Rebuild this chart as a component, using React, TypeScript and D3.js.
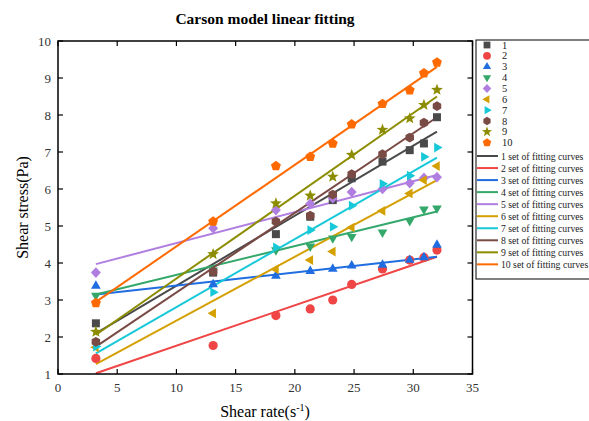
import React from "react";
import * as d3 from "d3";

const shearRate = [3.2, 13.1, 18.4, 21.3, 23.2, 24.8, 27.4, 29.7, 30.9, 32.0];

const s1 = [2.37, 3.74, 4.78, 5.25, 5.7, 6.29, 6.74, 7.05, 7.23, 7.94];
const s2 = [1.42, 1.77, 2.58, 2.76, 3.0, 3.42, 3.84, 4.08, 4.15, 4.35];
const s3 = [3.38, 3.42, 3.65, 3.78, 3.84, 3.93, 3.95, 4.08, 4.15, 4.49];
const s4 = [3.12, 3.8, 4.35, 4.45, 4.67, 4.71, 4.83, 5.14, 5.45, 5.48];
const s5 = [3.74, 4.94, 5.43, 5.6, 5.75, 5.92, 6.0, 6.16, 6.3, 6.32];
const s6 = [1.72, 2.64, 3.83, 4.08, 4.31, 4.96, 5.41, 5.88, 6.24, 6.62];
const s7 = [1.74, 3.21, 4.42, 4.89, 4.98, 5.55, 6.14, 6.36, 6.87, 7.12];
const s8 = [1.87, 3.77, 5.12, 5.28, 5.85, 6.4, 6.94, 7.39, 7.79, 8.24];
const s9 = [2.14, 4.24, 5.61, 5.82, 6.33, 6.92, 7.6, 7.91, 8.27, 8.68];
const s10 = [2.92, 5.12, 6.62, 6.87, 7.23, 7.75, 8.3, 8.67, 9.13, 9.42];

// fitting line endpoints [y at first x, y at last x]
const fitStart = [2.1, 1.02, 3.15, 3.15, 3.97, 1.27, 1.56, 1.74, 2.06, 2.95];
const fitEnd = [7.55, 4.17, 4.17, 5.39, 6.38, 6.24, 6.85, 7.94, 8.5, 9.3];

const seriesNames = ["1", "2", "3", "4", "5", "6", "7", "8", "9", "10"];
const fitNames = seriesNames.map((n) => `${n} set of fitting curves`);
const colors = ["#4a4a4a", "#f04545", "#1f6de0", "#33a86a", "#b07ee0", "#d4a000", "#16c8d8", "#7a4a45", "#8c8c00", "#ff6a00"];
const shapes = ["square", "circle", "up", "down", "diamond", "left", "right", "hexagon", "star", "pentagon"];

const xTicks = [0, 5, 10, 15, 20, 25, 30, 35];
const yTicks = [1, 2, 3, 4, 5, 6, 7, 8, 9, 10];

const allSeries = [s1, s2, s3, s4, s5, s6, s7, s8, s9, s10];

function poly(n: number, r: number, rot: number) {
  const pts: string[] = [];
  for (let i = 0; i < n; i++) {
    const a = rot + (i * 2 * Math.PI) / n;
    pts.push(`${(r * Math.cos(a)).toFixed(2)},${(r * Math.sin(a)).toFixed(2)}`);
  }
  return "M" + pts.join("L") + "Z";
}

function starPath(r: number) {
  const pts: string[] = [];
  for (let i = 0; i < 10; i++) {
    const rr = i % 2 === 0 ? r : r * 0.42;
    const a = -Math.PI / 2 + (i * Math.PI) / 5;
    pts.push(`${(rr * Math.cos(a)).toFixed(2)},${(rr * Math.sin(a)).toFixed(2)}`);
  }
  return "M" + pts.join("L") + "Z";
}

function symbolPath(shape: string) {
  switch (shape) {
    case "square":
      return "M-4,-4L4,-4L4,4L-4,4Z";
    case "circle":
      return "M4.6,0A4.6,4.6 0 1,1 -4.6,0A4.6,4.6 0 1,1 4.6,0Z";
    case "up":
      return poly(3, 5.6, -Math.PI / 2);
    case "down":
      return poly(3, 5.6, Math.PI / 2);
    case "diamond":
      return "M0,-5.3L5,0L0,5.3L-5,0Z";
    case "left":
      return poly(3, 5.6, Math.PI);
    case "right":
      return poly(3, 5.6, 0);
    case "hexagon":
      return poly(6, 4.9, Math.PI / 2);
    case "star":
      return starPath(6.2);
    case "pentagon":
      return poly(5, 5.2, -Math.PI / 2);
  }
  return "";
}

export default function App() {
  const W = 589;
  const H = 421;
  const x = d3.scaleLinear().domain([0, 35]).range([58, 472.5]);
  const y = d3.scaleLinear().domain([1, 10]).range([374, 41]);
  const font = "'Liberation Serif', 'Times New Roman', serif";
  const line = d3
    .line<[number, number]>()
    .x((d) => x(d[0]))
    .y((d) => y(d[1]));
  const x0 = shearRate[0];
  const x1 = shearRate[shearRate.length - 1];

  const legX = 476;
  const legY = 40;

  return (
    <svg
      width={W}
      height={H}
      style={{ position: "absolute", left: 0, top: 0, background: "#fff" }}
      fontFamily={font}
    >
      <rect x={0} y={0} width={W} height={H} fill="#fff" />
      {/* title */}
      <text x={265} y={24} textAnchor="middle" fontSize={15.5} fontWeight="bold" fill="#000">
        Carson model linear fitting
      </text>

      {/* fit lines */}
      {fitStart.map((s, i) => (
        <path
          key={"f" + i}
          d={line([
            [x0, s],
            [x1, fitEnd[i]],
          ]) || ""}
          stroke={colors[i]}
          strokeWidth={2}
          fill="none"
        />
      ))}

      {/* scatter */}
      {allSeries.map((ser, i) =>
        ser.map((v, j) => (
          <path
            key={`m${i}-${j}`}
            d={symbolPath(shapes[i])}
            transform={`translate(${x(shearRate[j])},${y(v)})`}
            fill={colors[i]}
          />
        ))
      )}

      {/* frame */}
      <rect x={x(0)} y={y(10)} width={x(35) - x(0)} height={y(1) - y(10)} fill="none" stroke="#000" strokeWidth={1.5} />
      {xTicks.map((t) => (
        <g key={"xt" + t}>
          <line x1={x(t)} x2={x(t)} y1={y(1)} y2={y(1) - 5} stroke="#000" strokeWidth={1.2} />
          <line x1={x(t)} x2={x(t)} y1={y(10)} y2={y(10) + 5} stroke="#000" strokeWidth={1.2} />
          <text x={x(t)} y={y(1) + 18} textAnchor="middle" fontSize={13} fill="#333">
            {t}
          </text>
        </g>
      ))}
      {yTicks.map((t) => (
        <g key={"yt" + t}>
          <line x1={x(0)} x2={x(0) + 5} y1={y(t)} y2={y(t)} stroke="#000" strokeWidth={1.2} />
          <line x1={x(35)} x2={x(35) - 5} y1={y(t)} y2={y(t)} stroke="#000" strokeWidth={1.2} />
          <text x={x(0) - 7} y={y(t) + 4.5} textAnchor="end" fontSize={13} fill="#333">
            {t}
          </text>
        </g>
      ))}

      {/* axis labels */}
      <text
        transform={`translate(28,${(y(1) + y(10)) / 2}) rotate(-90)`}
        textAnchor="middle"
        fontSize={16}
        fill="#000"
      >
        Shear stress(Pa)
      </text>
      <text x={265} y={417} textAnchor="middle" fontSize={16} fill="#000">
        Shear rate(s<tspan dy={-6} fontSize={10}>-1</tspan>
        <tspan dy={6}>)</tspan>
      </text>

      {/* legend */}
      <rect x={legX} y={legY} width={130} height={239} fill="#fff" stroke="#000" strokeWidth={1} />
      {seriesNames.map((n, i) => (
        <g key={"lm" + i}>
          <path
            d={symbolPath(shapes[i])}
            transform={`translate(${legX + 11},${legY + 5 + i * 10.86}) scale(0.85)`}
            fill={colors[i]}
          />
          <text x={legX + 26} y={legY + 8.5 + i * 10.86} fontSize={10.5} fill="#222">
            {n}
          </text>
        </g>
      ))}
      {fitNames.map((n, i) => (
        <g key={"ll" + i}>
          <line
            x1={legX + 1}
            x2={legX + 22}
            y1={legY + 116 + i * 12.04}
            y2={legY + 116 + i * 12.04}
            stroke={colors[i]}
            strokeWidth={2}
          />
          <text x={legX + 25} y={legY + 119.5 + i * 12.04} fontSize={9.7} fill="#222">
            {n}
          </text>
        </g>
      ))}
    </svg>
  );
}
